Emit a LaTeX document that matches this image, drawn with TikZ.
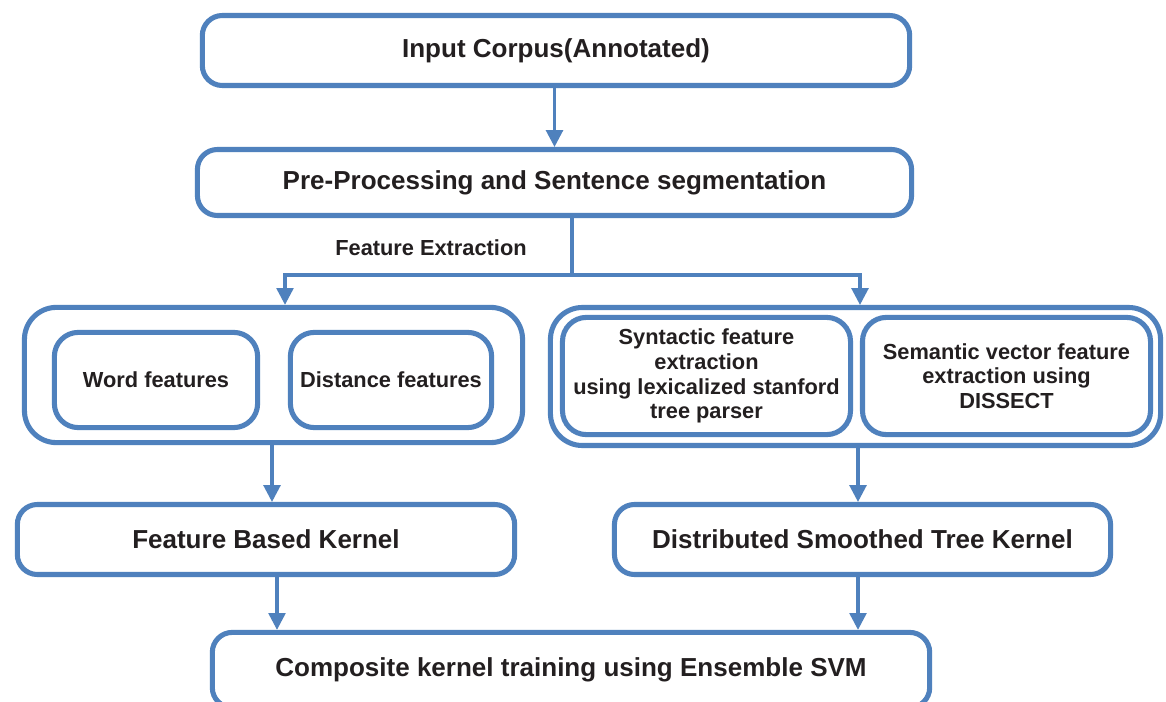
\documentclass[tikz,border=0pt]{standalone}
\usepackage{fontspec}
\setmainfont{Liberation Sans}
\usetikzlibrary{arrows.meta}
\definecolor{boxblue}{RGB}{79,129,189}
\definecolor{txtgray}{RGB}{35,31,32}

\begin{document}
\begin{tikzpicture}[x=0.025cm, y=-0.025cm,
  box/.style={draw=boxblue, line width=3.6pt, rounded corners=5mm, text=txtgray,
    font=\fontsize{18.5}{22}\selectfont\bfseries, align=center, inner sep=0pt},
  group/.style={draw=boxblue, line width=3.6pt, rounded corners=8mm},
  subbox/.style={draw=boxblue, line width=3.6pt, rounded corners=6mm, text=txtgray,
    font=\fontsize{15.5}{17.6}\selectfont\bfseries, align=center, inner sep=0pt},
  flow/.style={draw=boxblue, line width=2.2pt, -{Triangle[length=4.2mm,width=4.2mm]}}]
  \path[use as bounding box, fill=white] (0,0) rectangle (1166,702);

  % main stages
  \node[box, minimum width=17.68cm, minimum height=1.75cm] (inp) at (556,50.5) {Input Corpus(Annotated)};
  \node[box, minimum width=17.85cm, minimum height=1.65cm] (pre) at (554.5,182.5) {Pre-Processing and Sentence segmentation};

  % feature groups
  \node[group, minimum width=12.45cm, minimum height=3.38cm] (left) at (273.5,375) {};
  \node[subbox, minimum width=5.08cm, minimum height=2.38cm] (word) at (156,380) {Word features};
  \node[subbox, minimum width=5.03cm, minimum height=2.38cm] (dist) at (391,380) {Distance features};

  \node[group, minimum width=15.25cm, minimum height=3.45cm] (right) at (855.5,376.5) {};
  \node[subbox, minimum width=7.2cm, minimum height=2.93cm] (syn) at (706.5,376)
    {Syntactic feature\\extraction\\using lexicalized stanford\\tree parser};
  \node[subbox, minimum width=7.2cm, minimum height=2.93cm] (sem) at (1006.5,376)
    {Semantic vector feature\\extraction using\\DISSECT};

  % kernels
  \node[box, minimum width=12.43cm, minimum height=1.75cm] (fbk) at (266,539.5) {Feature Based Kernel};
  \node[box, minimum width=12.4cm, minimum height=1.75cm] (dstk) at (862.5,539.5) {Distributed Smoothed Tree Kernel};
  \node[box, minimum width=17.93cm, minimum height=1.88cm] (comp) at (571,670) {Composite kernel training using Ensemble SVM};

  % split after pre-processing
  \coordinate (split) at (572,275);
  \coordinate (fl) at (285,275);
  \coordinate (fr) at (860,275);
  \node[text=txtgray, font=\fontsize{15.5}{17.6}\selectfont\bfseries] (fe) at (431,248) {Feature Extraction};

  \draw[flow] (inp.south -| pre.north) -- (pre.north);
  \draw[draw=boxblue, line width=2.2pt] (pre.south -| split) -- (split);
  \draw[flow] (split) -- (fl) -- (fl |- left.north);
  \draw[flow] (split) -- (fr) -- (fr |- right.north);
  \draw[flow] (left.south -| 272,0) -- (fbk.north -| 272,0);
  \draw[flow] (right.south -| 858,0) -- (dstk.north -| 858,0);
  \draw[flow] (fbk.south -| 277,0) -- (comp.north -| 277,0);
  \draw[flow] (dstk.south -| 858,0) -- (comp.north -| 858,0);
\end{tikzpicture}
\end{document}
